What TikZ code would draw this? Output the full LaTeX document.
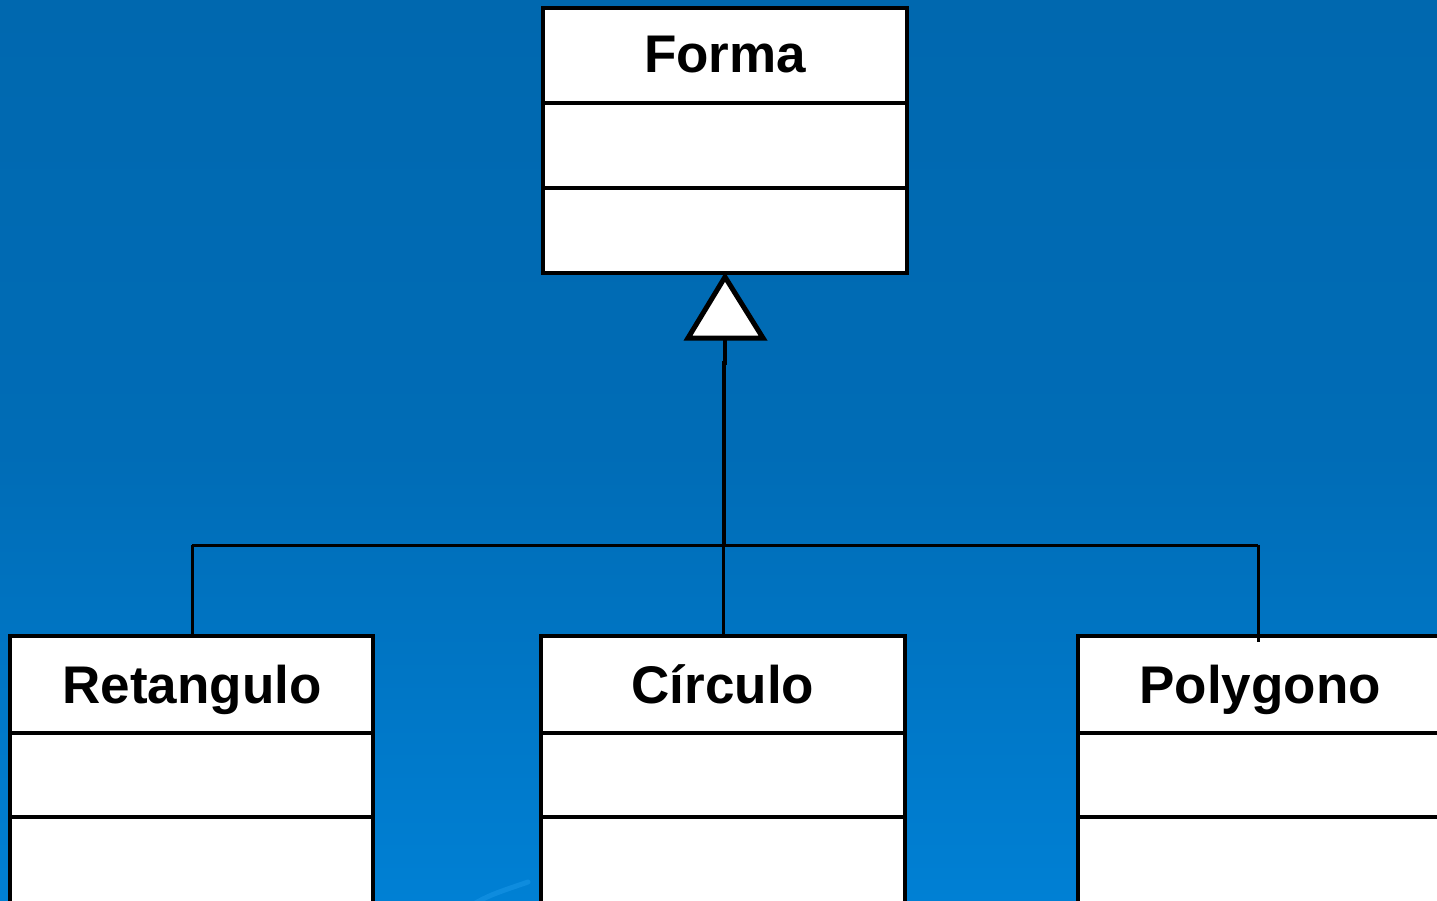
\documentclass[tikz,border=0pt]{standalone}
\usepackage{fontspec}
\setmainfont{Liberation Sans}
\definecolor{bgtop}{RGB}{0,104,175}
\definecolor{bgmid}{RGB}{0,108,182}
\definecolor{bgbot}{RGB}{0,128,212}
\definecolor{streak}{RGB}{14,140,222}
\begin{document}
\begin{tikzpicture}[x=1pt,y=-1pt,
  classbox/.style={draw=black,fill=white,line width=4pt,anchor=north west,inner sep=0pt,outer sep=0pt},
  classname/.style={font=\fontsize{53}{60}\selectfont\bfseries,anchor=base,inner sep=0pt},
  divider/.style={draw=black,line width=4pt},
  conn/.style={draw=black,line width=3pt},
  stem/.style={draw=black,line width=4pt}]
\useasboundingbox (0,0) rectangle (1437,901);
\clip (0,0) rectangle (1437,901);
\shade[top color=bgtop,bottom color=bgbot,middle color=bgmid,shading angle=0] (0,0) rectangle (1437,901);
\draw[streak,line width=5pt,line cap=round] (470,906) .. controls (490,895) .. (528,882);
% Forma
\node[classbox,minimum width=364pt,minimum height=265pt] (forma) at (543,8) {};
\draw[divider] (543,103.5) -- (907,103.5);
\draw[divider] (543,188) -- (907,188);
\node[classname] (formaT) at (725,73) {Forma};
% Retangulo
\node[classbox,minimum width=363pt,minimum height=300pt] (ret) at (10,636) {};
\draw[divider] (10,733) -- (373,733);
\draw[divider] (10,817) -- (373,817);
\node[classname] (retT) at (192,703) {Retangulo};
% Circulo
\node[classbox,minimum width=364pt,minimum height=300pt] (circ) at (541,636) {};
\draw[divider] (541,733) -- (905,733);
\draw[divider] (541,817) -- (905,817);
\node[classname] (circT) at (723,703) {Círculo};
% Polygono
\node[classbox,minimum width=400pt,minimum height=300pt] (poly) at (1078,636) {};
\draw[divider] (1078,733) -- (1480,733);
\draw[divider] (1078,817) -- (1480,817);
\node[classname] (polyT) at (1260,703) {Polygono};
% inheritance
\coordinate (apex) at (725,277);
\coordinate (base) at (725,338);
\coordinate (junc) at (724,545);
\coordinate (jl) at (192,545);
\coordinate (jr) at (1258,545);
\draw[stem] (base) -- (725,363) -- (724,363) -- (junc);
\draw[conn] (jl) -- (jr);
\draw[conn] (jl) -- (jl |- ret.north);
\draw[conn] (723,545) -- (723,636);
\draw[conn] (jr) -- (1258,642);
\draw[black,fill=white,line width=5pt,line join=miter] (apex) -- (763,338) -- (688,338) -- cycle;
\end{tikzpicture}
\end{document}
